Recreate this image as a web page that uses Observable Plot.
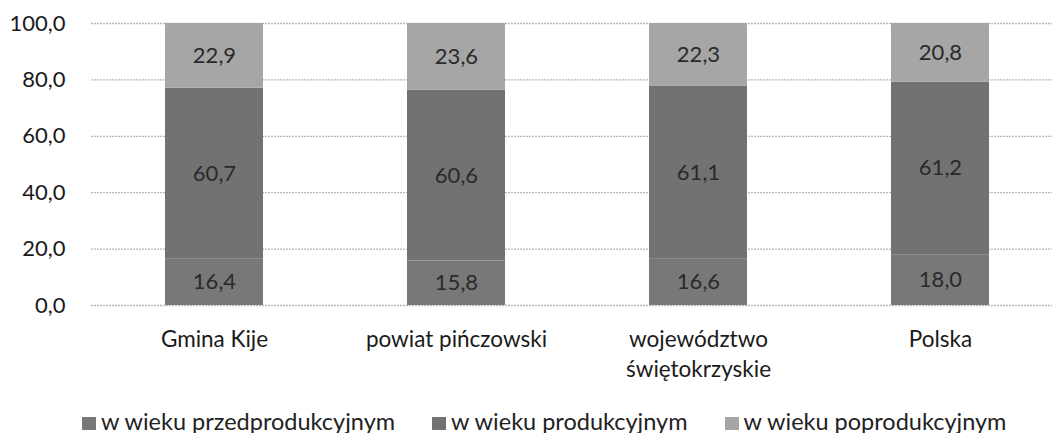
<!DOCTYPE html>
<html><head><meta charset="utf-8">
<script src="https://cdn.jsdelivr.net/npm/d3@7"></script>
<script src="https://cdn.jsdelivr.net/npm/@observablehq/plot@0.6"></script>
<style>
body{margin:0;background:#fff;font-family:Lato,"Open Sans",sans-serif;overflow:hidden;}
#legend{display:flex;justify-content:flex-start;gap:37px;font-size:23.5px;line-height:28px;color:#222;margin-top:22px;padding-left:82px;white-space:nowrap;}
#legend span.sw{display:inline-block;width:14px;height:13px;margin-right:5px;vertical-align:middle;position:relative;top:-1px;}
</style></head>
<body><div id="chart"></div><div id="legend"></div>
<script>
const categories = ["Gmina Kije", "powiat pińczowski", "województwo\nświętokrzyskie", "Polska"];
const series = ["w wieku przedprodukcyjnym", "w wieku produkcyjnym", "w wieku poprodukcyjnym"];
const przed = [16.4, 15.8, 16.6, 18.0];
const prod = [60.7, 60.6, 61.1, 61.2];
const po = [22.9, 23.6, 22.3, 20.8];
const colors = ["#787878", "#727272", "#a6a6a6"];
const yTicks = [0, 20, 40, 60, 80, 100];

const data = [];
categories.forEach((c, i) => {
  [przed, prod, po].forEach((arr, j) => data.push({cat: c, series: series[j], value: arr[i]}));
});
const fmt = v => v.toFixed(1).replace(".", ",");

const chart = Plot.plot({
  width: 1052, height: 385,
  marginLeft: 91, marginRight: 0, marginTop: 23, marginBottom: 80,
  style: {fontFamily: "Lato, 'Open Sans', sans-serif", background: "#fff"},
  x: {domain: categories, range: [91, 1062], paddingInner: 0.597, paddingOuter: 0.3, axis: null},
  y: {domain: [0, 100], axis: null},
  color: {domain: series, range: colors},
  marks: [
    Plot.ruleY(yTicks, {stroke: "#b8b8b8", strokeDasharray: "2,1", strokeWidth: 1.3}),
    Plot.barY(data, Plot.stackY({x: "cat", y: "value", fill: "series", order: series})),
    Plot.text(data, Plot.stackY({x: "cat", y: "value", z: "series", order: series, text: d => fmt(d.value), fill: "#2a2a2a", fontSize: 22})),
    Plot.axisY(yTicks, {tickSize: 0, tickPadding: 26, tickFormat: fmt, fontSize: 22, fill: "#1a1a1a", label: null}),
    Plot.axisX({tickSize: 0, tickPadding: 21, fontSize: 22.5, fill: "#1a1a1a", label: null, lineHeight: 1.3})
  ]
});
document.getElementById("chart").appendChild(chart);

const lg = document.getElementById("legend");
series.forEach((s, i) => {
  const d = document.createElement("div");
  d.innerHTML = `<span class="sw" style="background:${colors[i]}"></span>${s}`;
  lg.appendChild(d);
});
</script></body></html>
